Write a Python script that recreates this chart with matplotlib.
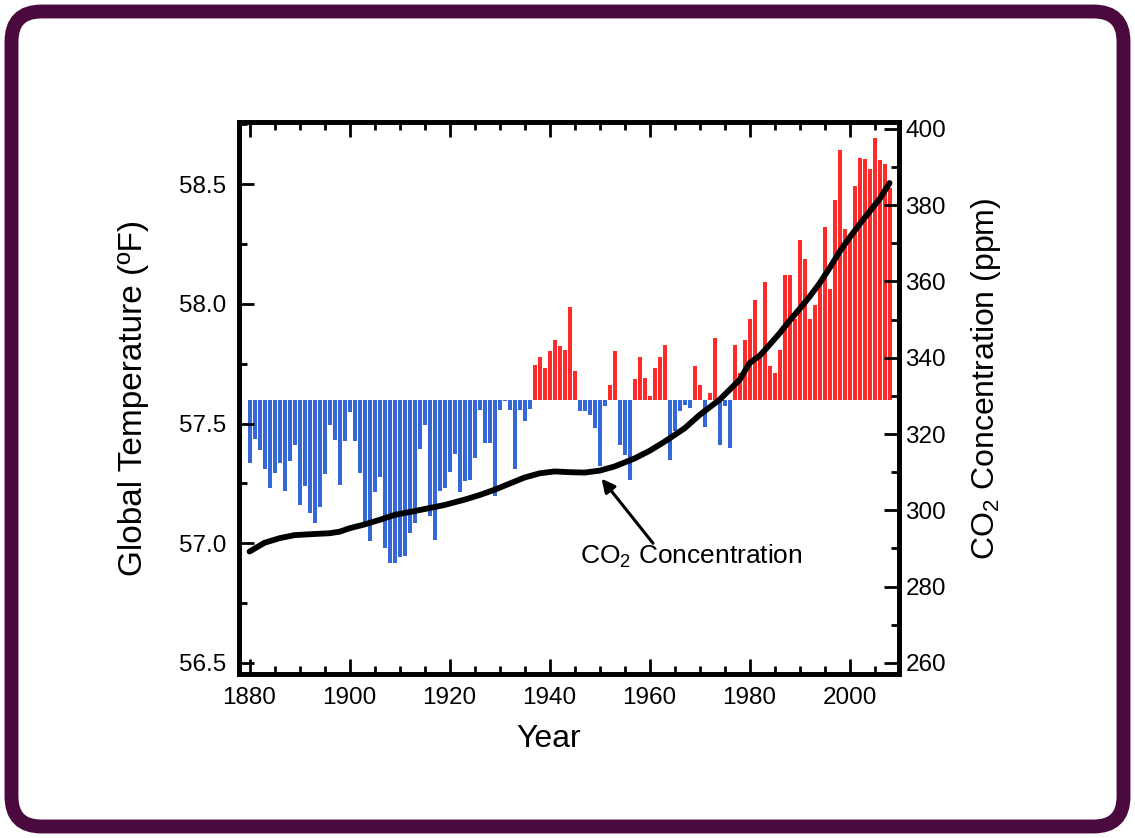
import numpy as np
import matplotlib
matplotlib.use("Agg")
import matplotlib.pyplot as plt
from matplotlib.patches import FancyBboxPatch
from matplotlib.ticker import MultipleLocator

plt.rcParams['font.family'] = ['Liberation Sans', 'DejaVu Sans']
plt.rcParams['mathtext.fontset'] = 'custom'
plt.rcParams['mathtext.rm'] = 'Liberation Sans'
plt.rcParams['mathtext.default'] = 'rm'

# annual global temperature, deg F (bars are drawn from the 57.6 baseline)
years = np.arange(1880, 2009)
temps = [
    57.336, 57.437, 57.391, 57.311, 57.232, 57.295, 57.336, 57.219, 57.345, 57.412,  # 1880s
    57.161, 57.240, 57.127, 57.085, 57.152, 57.290, 57.495, 57.433, 57.244, 57.428,  # 1890s
    57.550, 57.428, 57.295, 57.085, 57.010, 57.215, 57.278, 56.981, 56.918, 56.918,  # 1900s
    56.943, 56.947, 57.044, 57.085, 57.395, 57.495, 57.115, 57.014, 57.219, 57.232,  # 1910s
    57.299, 57.374, 57.215, 57.261, 57.265, 57.357, 57.558, 57.420, 57.420, 57.198,  # 1920s
    57.558, 57.596, 57.558, 57.311, 57.558, 57.512, 57.562, 57.746, 57.776, 57.734,  # 1930s
    57.805, 57.847, 57.826, 57.809, 57.985, 57.721, 57.554, 57.554, 57.537, 57.483,  # 1940s
    57.324, 57.575, 57.659, 57.805, 57.412, 57.370, 57.265, 57.684, 57.780, 57.692,  # 1950s
    57.613, 57.734, 57.776, 57.830, 57.349, 57.470, 57.554, 57.579, 57.567, 57.742,  # 1960s
    57.659, 57.487, 57.629, 57.859, 57.412, 57.575, 57.399, 57.830, 57.713, 57.851,  # 1970s
    57.935, 58.014, 57.784, 58.090, 57.742, 57.713, 57.809, 58.119, 58.119, 57.935,  # 1980s
    58.265, 58.186, 57.935, 57.997, 58.098, 58.320, 58.064, 58.433, 58.642, 58.311,  # 1990s
    58.290, 58.491, 58.608, 58.604, 58.563, 58.692, 58.600, 58.583, 58.482,          # 2000s
]
baseline = 57.6

# CO2 concentration, ppm
co2_years = [1880, 1883, 1886, 1889, 1893, 1896, 1898, 1900, 1903, 1906, 1909, 1913,
             1916, 1919, 1923, 1926, 1929, 1932, 1935, 1938, 1941, 1944, 1947, 1950,
             1953, 1957, 1960, 1963, 1967, 1970, 1972, 1974, 1976, 1978, 1980, 1982,
             1984, 1986, 1988, 1990, 1992, 1994, 1996, 1998, 2000, 2002, 2004, 2006, 2008]
co2_ppm = [289.2, 291.5, 292.7, 293.5, 293.8, 294.0, 294.4, 295.3, 296.3, 297.5, 298.8, 299.8,
           300.6, 301.4, 302.8, 304.0, 305.4, 307.0, 308.6, 309.7, 310.2, 310.0, 309.9, 310.4,
           311.5, 313.6, 315.6, 318.0, 321.5, 325.0, 327.0, 329.0, 331.6, 334.2, 338.6, 340.5,
           343.4, 346.4, 349.7, 352.8, 356.0, 359.5, 363.5, 367.8, 371.5, 375.0, 378.3, 381.6,
           385.8]

temp_ticks = [56.5, 57.0, 57.5, 58.0, 58.5]
co2_ticks = [260, 280, 300, 320, 340, 360, 380, 400]
year_ticks = [1880, 1900, 1920, 1940, 1960, 1980, 2000]

fig = plt.figure(figsize=(11.35, 8.38), dpi=100)
fig.patch.set_facecolor('white')

# rounded purple frame around the whole picture
frame = FancyBboxPatch((0.115, 0.115), 11.12, 8.15,
                       boxstyle='round,pad=0,rounding_size=0.3',
                       transform=fig.dpi_scale_trans, facecolor='none',
                       edgecolor='#4a0a3e', linewidth=10)
fig.patches.append(frame)

ax = fig.add_axes([0.2104, 0.1957, 0.5813, 0.6583])
ax.set_facecolor('none')

anom = np.array(temps) - baseline
colors = ['#ff2b2b' if a > 0 else '#3567d6' for a in anom]
ax.bar(years, anom, bottom=baseline, width=0.78, color=colors, linewidth=0)

ax.set_xlim(1877.85, 2009.8)
ax.set_ylim(56.454, 58.758)
ax.set_xticks(year_ticks)
ax.xaxis.set_minor_locator(MultipleLocator(5))
ax.set_yticks(temp_ticks)
ax.set_yticklabels(['%.1f' % t for t in temp_ticks])
ax.yaxis.set_minor_locator(MultipleLocator(0.25))

ax.tick_params(which='both', direction='in', top=True, right=False, width=2, labelsize=17.5)
ax.tick_params(which='major', length=11)
ax.tick_params(which='minor', length=6)
ax.tick_params(axis='x', pad=9)
ax.tick_params(axis='y', pad=9)
for s in ax.spines.values():
    s.set_linewidth(3.4)

ax.set_xlabel('Year', fontsize=23)
ax.xaxis.set_label_coords(0.469, -0.09)
ax.set_ylabel('Global Temperature (ºF)', fontsize=24)
ax.yaxis.set_label_coords(-0.136, 0.5)

ax2 = ax.twinx()
ax2.plot(co2_years, co2_ppm, color='black', linewidth=4.2, solid_capstyle='round',
         solid_joinstyle='round')
ax2.set_ylim(257.1, 401.7)
ax2.set_yticks(co2_ticks)
ax2.yaxis.set_minor_locator(MultipleLocator(10))
ax2.tick_params(which='both', direction='in', width=2, labelsize=17.5, pad=5)
ax2.tick_params(which='major', length=11)
ax2.tick_params(which='minor', length=6)
for s in ax2.spines.values():
    s.set_linewidth(3.4)
ax2.set_ylabel('CO$_2$ Concentration (ppm)', fontsize=23)
ax2.yaxis.set_label_coords(1.106, 0.535)

ax2.annotate('CO$_2$ Concentration', xy=(1950.4, 308.3), xytext=(1946, 287.8),
             fontsize=19, va='center', ha='left',
             arrowprops=dict(arrowstyle='-|>', color='black', lw=2.2,
                             mutation_scale=20, shrinkA=0, shrinkB=0,
                             patchA=None, relpos=(0.33, 1.0)))

fig.savefig('out.png', dpi=100)
